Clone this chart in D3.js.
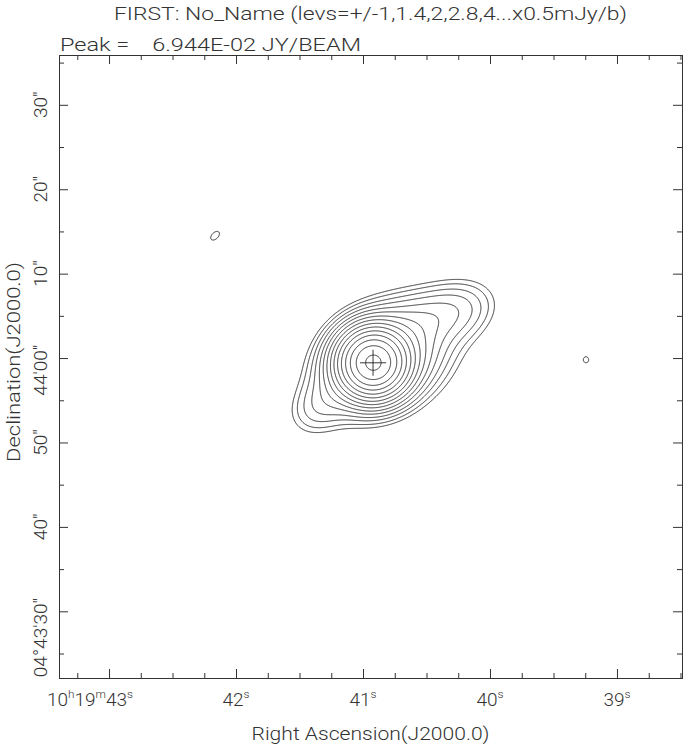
<!DOCTYPE html>
<html><head><meta charset="utf-8">
<script src="https://cdn.jsdelivr.net/npm/d3@7"></script>
<style>
body{margin:0;background:#fff}
svg text{font-family:Roboto,"DejaVu Sans",sans-serif;fill:#333;font-weight:300;white-space:pre}
</style></head><body><svg id="c" width="683" height="746"></svg>
<script>
// ---------------- data ----------------
const titleText = "FIRST: No_Name (levs=+/-1,1.4,2,2.8,4...x0.5mJy/b)";
const peakText = "Peak =    6.944E-02 JY/BEAM";
const xTitle = "Right Ascension(J2000.0)";
const yTitle = "Declination(J2000.0)";
const peakValue = 69.44;            // mJy/beam
const levelBase = 0.5;              // mJy/beam
const levelMult = [1,1.4,2,2.8,4,5.6,8,11.3,16,22.6,32,45.3,64,90.5,128];
const raDomain = [43.394, 38.488];  // seconds of 10h19m
const decDomain = [-37.9, 35.9];    // arcsec offset from +04d44m00s
const decZeroDeg = 4 + 44/60;
const raMajor = [43,42,41,40,39];
const raLabels = [[["10",0],["h",1],["19",0],["m",1],["43",0],["s",1]],[["42",0],["s",1]],[["41",0],["s",1]],[["40",0],["s",1]],[["39",0],["s",1]]];
const decMajor = [30,20,10,0,-10,-20,-30];
const decLabels = [["30\""],["20\""],["10\""],["44'","00\""],["50\""],["40\""],["04°","43'","30\""]];
// source components (RA s, Dec arcsec offset, peak mJy, FWHM major/minor arcsec, PA deg)
const compRA   = [40.921, 40.866, 41.340, 40.276, 40.551, 40.748, 42.165, 39.244];
const compDec  = [-0.56, -0.20, -5.70, 5.50, 4.77, 0.39, 14.49, -0.20];
const compPeak = [61.4, 8.0, 1.0, 1.35, 0.8, 0.85, 0.53, 0.51];
const compMaj  = [4.85, 8.9, 6.0, 7.2, 7.0, 15.0, 4.3, 4.2];
const compMin  = [4.85, 6.7, 4.5, 5.0, 4.5, 10.2, 2.6, 3.7];
const compPA   = [0, 120, 130, 112, 110, 120, 135, 0];
const markRA = 40.921, markDec = -0.56;

// ---------------- layout ----------------
const P = {l:59, r:682, t:55, b:678};
const svg = d3.select("#c");
const xs = d3.scaleLinear().domain(raDomain).range([P.l, P.r]);
const ys = d3.scaleLinear().domain(decDomain).range([P.b, P.t]);
const FS = 19;

// ---------------- contours ----------------
const nx = P.r - P.l, ny = P.b - P.t;
const cosd = Math.cos(decZeroDeg*Math.PI/180);
const colRA = d3.range(nx).map(i => xs.invert(P.l + i + 0.5));
const rowDec = d3.range(ny).map(j => ys.invert(P.t + j + 0.5));
const comps = compRA.map((ra,k)=>{
  const pa = compPA[k]*Math.PI/180;
  const sM = compMaj[k]/2.3548, sm = compMin[k]/2.3548;
  return {ra, dec:compDec[k], A:compPeak[k], s:Math.sin(pa), c:Math.cos(pa), iM:1/(sM*sM), im:1/(sm*sm)};
});
const values = new Float64Array(nx*ny);
for (let j=0;j<ny;j++){
  const dec = rowDec[j];
  for (let i=0;i<nx;i++){
    const ra = colRA[i];
    let v = 0;
    for (const q of comps){
      const dE = (ra - q.ra)*15*cosd, dN = dec - q.dec;
      const u = dE*q.s + dN*q.c, w = -dE*q.c + dN*q.s;
      const e = u*u*q.iM + w*w*q.im;
      if (e < 60) v += q.A*Math.exp(-0.5*e);
    }
    values[j*nx+i] = v;
  }
}
const levels = levelMult.map(m=>m*levelBase).filter(l=>l<peakValue);
const contours = d3.contours().size([nx,ny]).thresholds(levels)(values);
const path = d3.geoPath(d3.geoIdentity().translate([P.l, P.t]));
svg.append("clipPath").attr("id","clp").append("rect").attr("x",P.l).attr("y",P.t).attr("width",nx).attr("height",ny);
svg.append("g").attr("clip-path","url(#clp)").selectAll("path").data(contours).join("path")
  .attr("d", path).attr("fill","none").attr("stroke","#222").attr("stroke-width",0.9);

// marker
const mx = xs(markRA), my = ys(markDec);
svg.append("path").attr("d",`M${mx-13},${my}H${mx+13}M${mx},${my-13}V${my+13}`).attr("stroke","#222").attr("stroke-width",0.9);

// ---------------- frame & ticks ----------------
const raMinor = d3.range(38.5, 43.3, 0.25).filter(v=>!raMajor.includes(v));
const decMinor = d3.range(-35, 36, 5).filter(v=>!decMajor.includes(v));
function ticks(axisFn, scale, vals, size, tr){
  svg.append("g").attr("transform",tr).call(axisFn(scale).tickValues(vals).tickSize(-size).tickSizeOuter(0).tickFormat(""))
    .call(g=>{g.select(".domain").remove(); g.selectAll("line").attr("stroke","#333");});
}
ticks(d3.axisBottom, xs, raMajor, 9, `translate(0,${P.b})`);
ticks(d3.axisBottom, xs, raMinor, 5, `translate(0,${P.b})`);
ticks(d3.axisTop, xs, raMajor, 9, `translate(0,${P.t})`);
ticks(d3.axisTop, xs, raMinor, 5, `translate(0,${P.t})`);
ticks(d3.axisLeft, ys, decMajor, 9, `translate(${P.l},0)`);
ticks(d3.axisLeft, ys, decMinor, 5, `translate(${P.l},0)`);
ticks(d3.axisRight, ys, decMajor, 9, `translate(${P.r},0)`);
ticks(d3.axisRight, ys, decMinor, 5, `translate(${P.r},0)`);
svg.append("rect").attr("x",P.l+0.5).attr("y",P.t+0.5).attr("width",nx).attr("height",ny)
  .attr("fill","none").attr("stroke","#333").attr("stroke-width",1);

// ---------------- labels ----------------
raLabels.forEach((parts,k)=>{
  const t = svg.append("text").attr("y",706).attr("font-size",FS);
  let sup=false;
  parts.forEach(([s,isSup])=>{
    const ts = t.append("tspan").text(s);
    if (isSup && !sup){ ts.attr("font-size",FS*0.62).attr("dy",-8); sup=true; }
    else if (!isSup && sup){ ts.attr("dy",8); sup=false; }
    else if (isSup) ts.attr("font-size",FS*0.62);
  });
  const tx = xs(raMajor[k]);
  if (k===0) t.attr("x", tx+24).attr("text-anchor","end");
  else t.attr("x", tx).attr("text-anchor","middle");
});
decLabels.forEach((parts,k)=>{
  const ty = ys(decMajor[k]);
  const t = svg.append("text").attr("font-size",FS).attr("text-anchor","end")
    .attr("transform",`translate(47,${ty}) rotate(-90)`);
  let last;
  parts.forEach(s=>{ last = t.append("tspan").text(s); });
  const lw = last.node().getComputedTextLength();
  t.attr("x", lw/2);
});
svg.append("text").attr("x",370.5).attr("y",20).attr("font-size",FS).attr("text-anchor","middle")
  .attr("textLength",513).attr("lengthAdjust","spacingAndGlyphs").text(titleText);
svg.append("text").attr("x",60).attr("y",51).attr("font-size",FS)
  .attr("textLength",301).attr("lengthAdjust","spacingAndGlyphs").text(peakText);
svg.append("text").attr("x",370.5).attr("y",740).attr("font-size",FS).attr("text-anchor","middle")
  .attr("textLength",238).attr("lengthAdjust","spacingAndGlyphs").text(xTitle);
svg.append("text").attr("transform","translate(20,362) rotate(-90)").attr("font-size",FS).attr("text-anchor","middle")
  .attr("textLength",200).attr("lengthAdjust","spacingAndGlyphs").text(yTitle);
</script></body></html>
